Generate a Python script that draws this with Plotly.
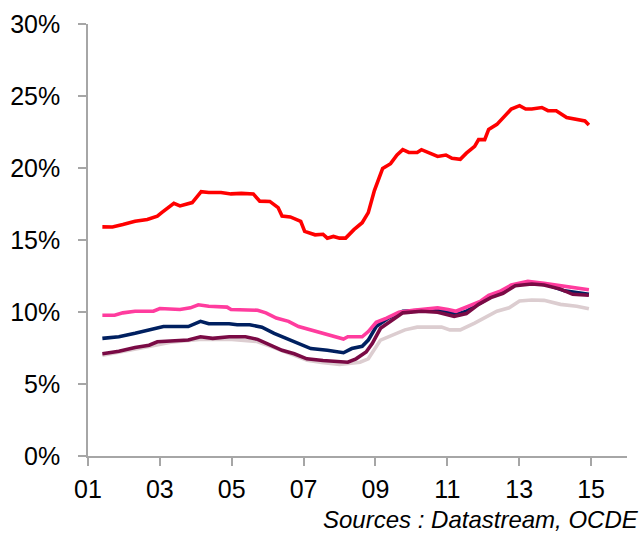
import plotly.graph_objects as go

# Years (decimal) and values (%)
red_x = [2001.40, 2001.68, 2001.97, 2002.31, 2002.65, 2002.93, 2003.05, 2003.22, 2003.39, 2003.56,
         2003.73, 2003.90, 2004.02, 2004.15, 2004.36, 2004.70, 2004.98, 2005.27, 2005.60, 2005.78,
         2006.06, 2006.29, 2006.40, 2006.63, 2006.92, 2007.03, 2007.32, 2007.54, 2007.66, 2007.83,
         2008.00, 2008.17, 2008.40, 2008.63, 2008.80, 2008.97, 2009.20, 2009.42, 2009.60, 2009.76,
         2009.93, 2010.16, 2010.28, 2010.50, 2010.73, 2010.96, 2011.13, 2011.36, 2011.53, 2011.76,
         2011.87, 2012.04, 2012.15, 2012.38, 2012.61, 2012.78, 2013.01, 2013.18, 2013.35, 2013.63,
         2013.80, 2014.03, 2014.32, 2014.60, 2014.83, 2014.94]
red_y = [15.91, 15.90, 16.07, 16.30, 16.43, 16.66, 16.90, 17.25, 17.54, 17.37,
         17.50, 17.60, 17.96, 18.36, 18.30, 18.30, 18.20, 18.24, 18.20, 17.70,
         17.68, 17.25, 16.66, 16.60, 16.30, 15.60, 15.36, 15.40, 15.13, 15.25,
         15.13, 15.13, 15.72, 16.20, 16.90, 18.43, 19.97, 20.30, 20.90, 21.27,
         21.08, 21.08, 21.27, 21.03, 20.80, 20.90, 20.67, 20.60, 21.03, 21.50,
         21.97, 21.97, 22.68, 23.03, 23.62, 24.10, 24.33, 24.10, 24.10, 24.20,
         23.98, 23.98, 23.50, 23.39, 23.27, 22.99]

pink_x = [2001.40, 2001.74, 2001.97, 2002.31, 2002.82, 2003.00, 2003.56, 2003.85, 2004.07, 2004.36,
          2004.87, 2004.98, 2005.72, 2005.95, 2006.24, 2006.58, 2006.86, 2007.20, 2007.54, 2007.89,
          2008.11, 2008.23, 2008.63, 2008.80, 2009.02, 2009.31, 2009.65, 2010.05, 2010.39, 2010.73,
          2011.02, 2011.24, 2011.59, 2011.93, 2012.15, 2012.49, 2012.78, 2013.24, 2013.69, 2014.15,
          2014.60, 2014.94]
pink_y = [9.77, 9.77, 9.94, 10.05, 10.05, 10.24, 10.17, 10.29, 10.50, 10.40,
          10.34, 10.17, 10.12, 9.94, 9.58, 9.35, 8.99, 8.76, 8.52, 8.33,
          8.12, 8.28, 8.28, 8.64, 9.28, 9.58, 9.98, 10.12, 10.22, 10.29,
          10.17, 10.05, 10.40, 10.76, 11.16, 11.47, 11.87, 12.13, 11.99, 11.82,
          11.70, 11.54]

navy_x = [2001.40, 2001.86, 2002.31, 2002.76, 2003.10, 2003.45, 2003.79, 2004.13, 2004.36, 2004.93,
          2005.15, 2005.50, 2005.84, 2006.18, 2006.52, 2006.86, 2007.20, 2007.66, 2008.11, 2008.34,
          2008.63, 2008.80, 2009.02, 2009.36, 2009.76, 2010.16, 2010.61, 2010.96, 2011.24, 2011.53,
          2011.93, 2012.21, 2012.55, 2012.89, 2013.35, 2013.80, 2014.26, 2014.60, 2014.94]
navy_y = [8.17, 8.28, 8.52, 8.76, 8.99, 8.99, 8.99, 9.35, 9.18, 9.18,
          9.11, 9.11, 8.95, 8.52, 8.17, 7.81, 7.46, 7.34, 7.17, 7.46,
          7.62, 8.05, 8.99, 9.58, 10.05, 10.10, 10.17, 10.05, 9.82, 10.05,
          10.64, 11.07, 11.42, 11.87, 12.01, 11.87, 11.47, 11.35, 11.23]

grey_x = [2001.40, 2002.00, 2002.70, 2003.30, 2004.10, 2005.00, 2005.70, 2006.10, 2006.70, 2007.10,
          2007.50, 2008.00, 2008.57, 2008.80, 2009.14, 2009.48, 2009.82, 2010.16, 2010.61, 2010.84,
          2011.07, 2011.36, 2011.76, 2012.10, 2012.38, 2012.72, 2013.01, 2013.35, 2013.69, 2014.15,
          2014.60, 2014.94]
grey_y = [7.00, 7.25, 7.60, 7.90, 8.10, 8.10, 7.95, 7.60, 7.05, 6.65,
          6.50, 6.35, 6.51, 6.75, 8.05, 8.40, 8.76, 8.95, 8.95, 8.95,
          8.76, 8.76, 9.23, 9.70, 10.05, 10.29, 10.76, 10.83, 10.81, 10.53,
          10.40, 10.22]

maroon_x = [2001.40, 2001.86, 2002.31, 2002.70, 2002.93, 2003.33, 2003.79, 2004.13, 2004.47, 2004.93,
            2005.38, 2005.72, 2006.06, 2006.40, 2006.74, 2007.09, 2007.54, 2008.00, 2008.23, 2008.46,
            2008.74, 2008.91, 2009.14, 2009.48, 2009.76, 2010.28, 2010.73, 2011.19, 2011.53, 2011.87,
            2012.21, 2012.55, 2012.89, 2013.35, 2013.69, 2014.15, 2014.49, 2014.94]
maroon_y = [7.10, 7.27, 7.53, 7.69, 7.93, 8.00, 8.05, 8.28, 8.17, 8.28,
            8.28, 8.10, 7.69, 7.34, 7.10, 6.75, 6.63, 6.51, 6.51, 6.75,
            7.22, 7.81, 8.87, 9.46, 9.94, 10.05, 9.98, 9.70, 9.89, 10.53,
            11.00, 11.30, 11.82, 11.94, 11.87, 11.59, 11.23, 11.16]

x_tickvals = [2001, 2003, 2005, 2007, 2009, 2011, 2013, 2015]
x_ticktext = ["01", "03", "05", "07", "09", "11", "13", "15"]
y_tickvals = [0, 5, 10, 15, 20, 25, 30]
y_ticktext = ["0%", "5%", "10%", "15%", "20%", "25%", "30%"]

series = [
    (grey_x, grey_y, "#DCCDD0"),
    (navy_x, navy_y, "#002060"),
    (pink_x, pink_y, "#FF3C9E"),
    (maroon_x, maroon_y, "#7A0A45"),
    (red_x, red_y, "#FF0000"),
]

fig = go.Figure()
for xs, ys, col in series:
    fig.add_trace(go.Scatter(x=xs, y=ys, mode="lines",
                             line=dict(color=col, width=3.6), showlegend=False,
                             hoverinfo="skip"))

axis_col = "#A6A6A6"
fnt = "Liberation Sans, Arial, sans-serif"
fig.update_layout(
    width=642, height=533,
    margin=dict(l=88, r=15, t=24, b=77, pad=0),
    paper_bgcolor="white", plot_bgcolor="white",
    font=dict(family=fnt, color="black", size=25),
    xaxis=dict(range=[2001, 2016], tickvals=x_tickvals, ticktext=x_ticktext,
               showgrid=False, zeroline=False, showline=True, linecolor=axis_col,
               linewidth=1.5, ticks="outside", ticklen=8, tickcolor=axis_col,
               tickwidth=1.5, tickfont=dict(size=25), ticklabelstandoff=2,
               automargin=False),
    yaxis=dict(range=[0, 30], tickvals=y_tickvals, ticktext=y_ticktext,
               showgrid=False, zeroline=False, showline=True, linecolor=axis_col,
               linewidth=1.5, ticks="outside", ticklen=8, tickcolor=axis_col,
               tickwidth=1.5, tickfont=dict(size=25), ticklabelstandoff=13,
               automargin=False),
    annotations=[dict(text="<i>Sources : Datastream, OCDE</i>", xref="paper", yref="paper",
                      x=1.0, y=-0.15, xanchor="right", yanchor="middle",
                      xshift=14, yshift=1, showarrow=False,
                      font=dict(size=24, family=fnt))],
)

fig.write_html("out.html", config={"displayModeBar": False},
               post_script="document.body.style.margin='0';document.body.style.padding='0';")
